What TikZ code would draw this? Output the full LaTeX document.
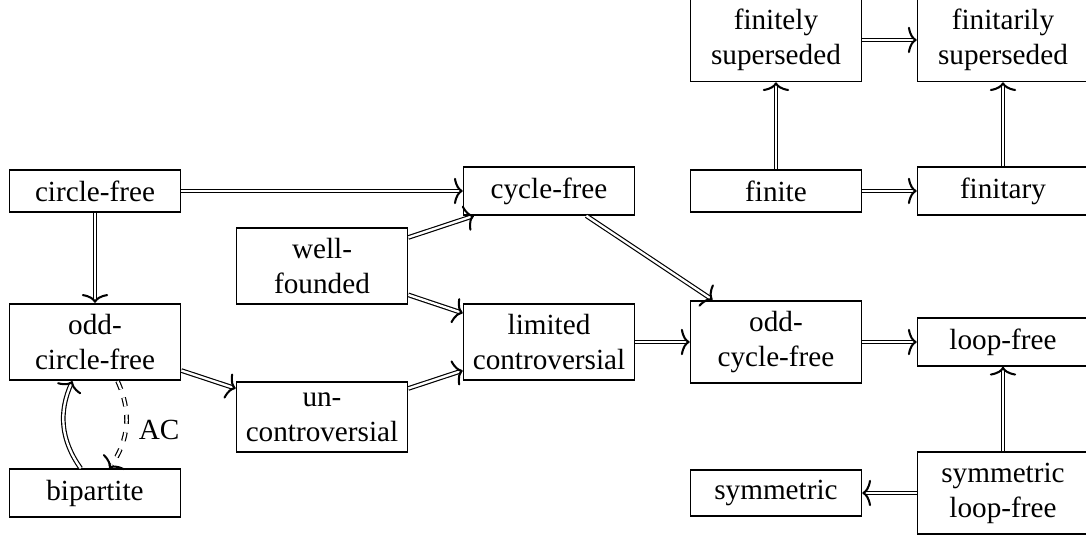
\documentclass[tikz,border=0pt]{standalone}
\usepackage{fontspec}
\setmainfont{Liberation Serif}
\usepackage{tikz}
\usetikzlibrary{arrows.meta}

\tikzset{
  prop/.style={draw, line width=0.6pt, minimum width=58.5pt, minimum height=14.5pt,
    inner xsep=2pt, inner ysep=3.6pt, align=center, font=\fontsize{10pt}{12pt}\selectfont},
  impl/.style={double, line width=0.4pt, double distance=0.8pt,
    -{To[length=3pt,width=9pt,line width=0.7pt]}},
}

\begin{document}
\begin{tikzpicture}
\useasboundingbox (0, 0) rectangle (13.069, -6.462);

\node[prop] (finitely superseded) at (9.338, -0.481) {finitely\\superseded};
\node[prop] (finitarily superseded) at (12.070, -0.481) {finitarily\\superseded};

\node[prop] (circle free) at (1.143, -2.298) {circle-free};
\node[prop] (cycle free) at (6.607, -2.298) {cycle-free};
\node[prop] (finite) at (9.338, -2.298) {finite};
\node[prop] (finitary) at (12.070, -2.298) {finitary};

\node[prop] (well founded) at (3.875, -3.201) {well-\\founded};

\node[prop] (odd circle free) at (1.143, -4.116) {odd-\\circle-free};
\node[prop] (limited) at (6.607, -4.116) {limited\\controversial};
\node[prop] (odd cycle free) at (9.338, -4.116) {odd-\\cycle-free};
\node[prop] (loop free) at (12.070, -4.116) {loop-free};

\node[prop] (uncontroversial) at (3.875, -5.018) {un-\\controversial};

\node[prop] (bipartite) at (1.143, -5.933) {bipartite};
\node[prop] (symmetric) at (9.338, -5.933) {symmetric};
\node[prop] (symmetric loop free) at (12.070, -5.933) {symmetric\\loop-free};

\draw[impl] (circle free) -- (cycle free);
\draw[impl] (circle free) -- (odd circle free);
\draw[impl] (well founded) -- (cycle free);
\draw[impl] (well founded) -- (limited);
\draw[impl] (odd circle free) -- (uncontroversial);
\draw[impl] (uncontroversial) -- (limited);
\draw[impl] (limited) -- (odd cycle free);
\draw[impl] (cycle free) -- (odd cycle free);
\draw[impl] (odd cycle free) -- (loop free);

\draw[impl] (symmetric loop free) -- (loop free);
\draw[impl] (symmetric loop free) -- (symmetric);

\draw[impl] (finite) -- (finitary);
\draw[impl] (finite) -- (finitely superseded);
\draw[impl] (finitary) -- (finitarily superseded);
\draw[impl] (finitely superseded) -- (finitarily superseded);

\draw[impl] (bipartite) to[bend left=30] (odd circle free);
\draw[impl, dashed] (odd circle free) to[bend left=30]
  node[pos=0.55, right=1pt, font=\fontsize{10pt}{12pt}\selectfont] (ac label) {AC} (bipartite);
\end{tikzpicture}
\end{document}
